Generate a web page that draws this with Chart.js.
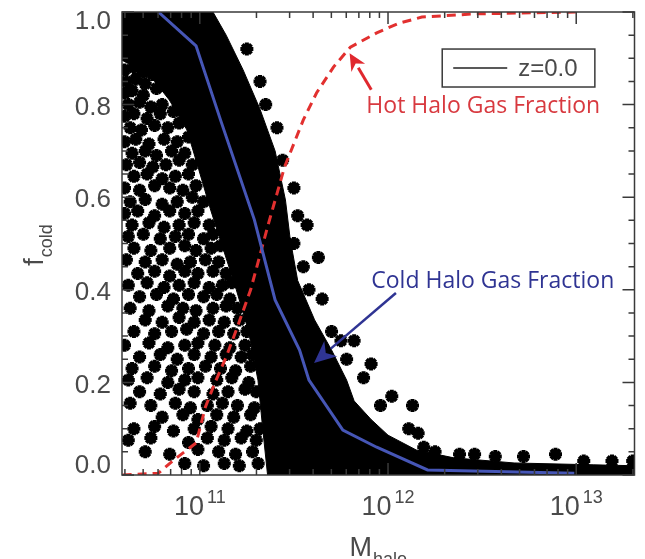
<!DOCTYPE html>
<html>
<head>
<meta charset="utf-8">
<script src="https://cdn.jsdelivr.net/npm/chart.js@4.4.1/dist/chart.umd.min.js"></script>
<style>
  html, body { margin: 0; padding: 0; background: #fff; }
  #wrap { width: 645px; height: 559px; }
</style>
</head>
<body>
<div id="wrap"><canvas id="chart" width="645" height="559"></canvas></div>
<script>
// axis limits (halo mass, log axis) and tick lists
const X_MIN = 3.86e10;
const X_MAX = 2.04e13;
const yMajorTicks = [0, 0.2, 0.4, 0.6, 0.8, 1.0];
const yTickLabels = ['0.0', '0.2', '0.4', '0.6', '0.8', '1.0'];
const yMinorTicks = [0.05, 0.1, 0.15, 0.25, 0.3, 0.35, 0.45, 0.5, 0.55, 0.65, 0.7, 0.75, 0.85, 0.9, 0.95];
const xMajorTicks = [1e11, 1e12, 1e13];
const xTickExponents = ['11', '12', '13'];
const xMinorDecades = [1e10, 1e11, 1e12, 1e13];
const xMinorSteps = [2, 3, 4, 5, 6, 7, 8, 9];

// cold halo gas fraction (binned median, blue), log10 mass
const coldLogM = [10.78, 10.98, 11.11, 11.29, 11.40, 11.53, 11.58, 11.76, 11.94, 12.21, 12.99];
const coldFrac = [1.0, 0.927, 0.767, 0.551, 0.378, 0.270, 0.205, 0.097, 0.060, 0.011, 0.004];

// hot halo gas fraction (red dashed)
const hotLogM = [10.59, 10.78, 10.86, 10.98, 11.03, 11.08, 11.14, 11.20, 11.27, 11.36, 11.45, 11.55, 11.62, 11.71, 11.80, 11.94, 12.06, 12.18, 12.46, 13.0];
const hotFrac = [0, 0.004, 0.032, 0.069, 0.147, 0.199, 0.255, 0.320, 0.400, 0.536, 0.665, 0.767, 0.825, 0.881, 0.924, 0.955, 0.976, 0.989, 0.996, 1.0];

// outline of the saturated part of the halo cloud [log10 M, f]
const cloudCore = [
  [10.586, 1.0], [11.07, 1.0], [11.14, 0.95], [11.23, 0.875], [11.32, 0.79], [11.40, 0.70],
  [11.455, 0.594], [11.48, 0.51], [11.52, 0.42], [11.61, 0.335], [11.70, 0.27], [11.78, 0.205],
  [11.82, 0.16], [11.91, 0.12], [12.0, 0.086], [12.15, 0.054], [12.35, 0.037], [12.67, 0.026],
  [13.09, 0.022], [13.31, 0.02], [13.31, 0], [11.36, 0], [11.335, 0.097], [11.309, 0.205],
  [11.257, 0.313], [11.194, 0.40], [11.126, 0.486], [11.058, 0.572], [10.995, 0.659],
  [10.932, 0.745], [10.838, 0.81], [10.733, 0.864], [10.586, 0.896]
];

// individual halos outside the saturated core [log10 M, f]
const cloudHalos = [
  [10.60, 0.875], [10.65, 0.88], [10.70, 0.87], [10.75, 0.865],
  [10.61, 0.85], [10.66, 0.855], [10.71, 0.845],
  [10.60, 0.825], [10.64, 0.83], [10.70, 0.82], [10.77, 0.835],
  [10.62, 0.80], [10.68, 0.805], [10.74, 0.795], [10.80, 0.80],
  [10.60, 0.775], [10.65, 0.78], [10.72, 0.77], [10.79, 0.78], [10.86, 0.785],
  [10.63, 0.75], [10.69, 0.745], [10.76, 0.755], [10.83, 0.75], [10.89, 0.76],
  [10.60, 0.72], [10.66, 0.725], [10.73, 0.715], [10.81, 0.725], [10.88, 0.72], [10.94, 0.73],
  [10.64, 0.695], [10.71, 0.70], [10.77, 0.69], [10.85, 0.70], [10.92, 0.695],
  [10.61, 0.67], [10.68, 0.675], [10.75, 0.665], [10.82, 0.67], [10.89, 0.68], [10.96, 0.67],
  [10.65, 0.645], [10.72, 0.65], [10.80, 0.64], [10.87, 0.645], [10.94, 0.65],
  [10.60, 0.62], [10.68, 0.615], [10.76, 0.625], [10.84, 0.62], [10.91, 0.615], [10.98, 0.625],
  [10.63, 0.59], [10.71, 0.595], [10.80, 0.585], [10.88, 0.59], [10.96, 0.60], [11.02, 0.59],
  [10.60, 0.565], [10.67, 0.57], [10.76, 0.56], [10.84, 0.57], [10.92, 0.565], [10.99, 0.57],
  [10.64, 0.54], [10.73, 0.545], [10.81, 0.535], [10.89, 0.54], [10.97, 0.545], [11.05, 0.54],
  [10.62, 0.515], [10.70, 0.52], [10.79, 0.51], [10.87, 0.515], [10.94, 0.52], [11.02, 0.51], [11.07, 0.52],
  [10.65, 0.49], [10.74, 0.485], [10.84, 0.49], [10.92, 0.495], [10.98, 0.485], [11.06, 0.49], [11.11, 0.495],
  [10.61, 0.465], [10.71, 0.46], [10.80, 0.465], [10.88, 0.455], [10.95, 0.46], [11.03, 0.465], [11.10, 0.46],
  [10.67, 0.435], [10.76, 0.44], [10.84, 0.43], [10.92, 0.44], [10.99, 0.435], [11.07, 0.44], [11.14, 0.435],
  [10.62, 0.41], [10.72, 0.415], [10.81, 0.405], [10.89, 0.41], [10.97, 0.415], [11.05, 0.405], [11.12, 0.41], [11.17, 0.415],
  [10.68, 0.385], [10.77, 0.39], [10.86, 0.38], [10.94, 0.39], [11.02, 0.385], [11.09, 0.39], [11.16, 0.38],
  [10.63, 0.36], [10.73, 0.355], [10.83, 0.365], [10.91, 0.36], [10.98, 0.355], [11.07, 0.36], [11.14, 0.365], [11.20, 0.36],
  [10.71, 0.335], [10.80, 0.33], [10.89, 0.34], [10.97, 0.33], [11.05, 0.335], [11.13, 0.33], [11.21, 0.335],
  [10.65, 0.31], [10.76, 0.305], [10.85, 0.31], [10.93, 0.315], [11.02, 0.305], [11.10, 0.31], [11.18, 0.305], [11.25, 0.31],
  [10.60, 0.28], [10.73, 0.285], [10.83, 0.275], [10.92, 0.28], [10.99, 0.285], [11.08, 0.28], [11.16, 0.275], [11.24, 0.28],
  [10.68, 0.255], [10.79, 0.26], [10.88, 0.25], [10.97, 0.26], [11.06, 0.255], [11.14, 0.26], [11.22, 0.255], [11.28, 0.26],
  [10.64, 0.23], [10.76, 0.235], [10.85, 0.225], [10.94, 0.23], [11.03, 0.235], [11.11, 0.23], [11.19, 0.225], [11.27, 0.235],
  [10.62, 0.205], [10.72, 0.21], [10.83, 0.20], [10.92, 0.205], [10.99, 0.21], [11.09, 0.205], [11.17, 0.21], [11.26, 0.20],
  [10.68, 0.18], [10.79, 0.175], [10.89, 0.185], [10.97, 0.18], [11.07, 0.175], [11.15, 0.18], [11.24, 0.185], [11.30, 0.18],
  [10.63, 0.155], [10.74, 0.15], [10.87, 0.155], [10.95, 0.145], [11.04, 0.15], [11.12, 0.155], [11.20, 0.15], [11.29, 0.145],
  [10.80, 0.125], [10.91, 0.13], [10.99, 0.12], [11.09, 0.13], [11.18, 0.125], [11.27, 0.13],
  [10.65, 0.10], [10.76, 0.105], [10.86, 0.095], [10.97, 0.10], [11.06, 0.105], [11.15, 0.10], [11.25, 0.095], [11.32, 0.10],
  [10.62, 0.075], [10.74, 0.08], [10.94, 0.07], [11.04, 0.08], [11.13, 0.075], [11.22, 0.08], [11.30, 0.075],
  [10.71, 0.05], [10.84, 0.045], [10.99, 0.055], [11.10, 0.05], [11.19, 0.045], [11.28, 0.05],
  [10.92, 0.025], [11.02, 0.02], [11.13, 0.025], [11.21, 0.02], [11.31, 0.025],
  // right-hand stragglers
  [11.25, 0.92], [11.32, 0.85], [11.35, 0.80], [11.41, 0.75], [11.44, 0.68], [11.50, 0.62],
  [11.52, 0.56], [11.57, 0.54], [11.63, 0.47], [11.50, 0.50], [11.55, 0.45], [11.58, 0.40],
  [11.65, 0.38], [11.70, 0.31], [11.75, 0.29], [11.82, 0.29], [11.78, 0.25], [11.87, 0.21],
  [11.91, 0.24], [11.96, 0.15], [12.02, 0.17], [12.13, 0.15], [12.11, 0.10], [12.16, 0.09],
  [12.19, 0.06], [12.25, 0.05], [12.38, 0.045], [12.46, 0.045], [12.57, 0.04], [12.72, 0.04],
  [12.89, 0.045], [13.04, 0.03], [13.19, 0.03], [13.30, 0.03]
];

// annotation anchors in data space [log10 M, f]
const hotNote = { text: 'Hot Halo Gas Fraction', at: [11.885, 0.795], color: '#d8393f' };
const coldNote = { text: 'Cold Halo Gas Fraction', at: [11.911, 0.417], color: '#2f3493' };
const hotArrow = { from: [11.911, 0.832], to: [11.796, 0.911], color: '#e0282e' };
const coldArrow = { from: [12.042, 0.393], to: [11.607, 0.242], color: '#2f3493' };
const legendCorners = { a: [12.288, 0.920], b: [13.099, 0.838] };
const legendLabel = 'z=0.0';

const toPoints = (logM, frac) => logM.map((m, i) => ({ x: Math.pow(10, m), y: frac[i] }));
const pairsToPoints = (pairs) => pairs.map(([m, f]) => ({ x: Math.pow(10, m), y: f }));

const AXIS_COLOR = '#3a3a3a';
const LABEL_COLOR = '#4a4a4a';
const AXIS_FONT = '"Liberation Sans", Arial, sans-serif';

function px(chart, pair) {
  const { x, y } = chart.scales;
  return [x.getPixelForValue(Math.pow(10, pair[0])), y.getPixelForValue(pair[1])];
}

function drawArrow(ctx, from, to, color, width, headLen, headHalf) {
  const ang = Math.atan2(to[1] - from[1], to[0] - from[0]);
  const bx = to[0] - Math.cos(ang) * headLen;
  const by = to[1] - Math.sin(ang) * headLen;
  ctx.strokeStyle = color;
  ctx.fillStyle = color;
  ctx.lineWidth = width;
  ctx.beginPath();
  ctx.moveTo(from[0], from[1]);
  ctx.lineTo(bx, by);
  ctx.stroke();
  ctx.beginPath();
  ctx.moveTo(to[0], to[1]);
  ctx.lineTo(bx + Math.sin(ang) * headHalf, by - Math.cos(ang) * headHalf);
  ctx.lineTo(to[0] - Math.cos(ang) * headLen * 0.7, to[1] - Math.sin(ang) * headLen * 0.7);
  ctx.lineTo(bx - Math.sin(ang) * headHalf, by + Math.cos(ang) * headHalf);
  ctx.closePath();
  ctx.fill();
}

// IDL style frame: box, inward ticks on all sides, custom labels
const idlFrame = {
  id: 'idlFrame',
  afterDraw(chart) {
    const { ctx, chartArea: a, scales: { x, y } } = chart;
    ctx.save();
    ctx.strokeStyle = AXIS_COLOR;
    ctx.lineWidth = 1.5;
    ctx.beginPath();
    const yTick = (v, len) => {
      const py = y.getPixelForValue(v);
      ctx.moveTo(a.left, py); ctx.lineTo(a.left + len, py);
      ctx.moveTo(a.right, py); ctx.lineTo(a.right - len, py);
    };
    const xTick = (v, len) => {
      if (v < X_MIN || v > X_MAX) return;
      const pxv = x.getPixelForValue(v);
      ctx.moveTo(pxv, a.bottom); ctx.lineTo(pxv, a.bottom - len);
      ctx.moveTo(pxv, a.top); ctx.lineTo(pxv, a.top + len);
    };
    yMajorTicks.forEach((v) => yTick(v, 12));
    yMinorTicks.forEach((v) => yTick(v, 6));
    xMajorTicks.forEach((v) => xTick(v, 12));
    xMinorDecades.forEach((d) => xMinorSteps.forEach((s) => xTick(d * s, 6)));
    ctx.stroke();
    ctx.strokeRect(a.left, a.top, a.right - a.left, a.bottom - a.top);

    // y tick labels
    ctx.fillStyle = LABEL_COLOR;
    ctx.font = '26px ' + AXIS_FONT;
    ctx.textAlign = 'right';
    ctx.textBaseline = 'middle';
    yMajorTicks.forEach((v, i) => {
      const py = Math.min(Math.max(y.getPixelForValue(v) + 3, a.top + 10), a.bottom - 9);
      ctx.fillText(yTickLabels[i], 111, py);
    });

    // x tick labels: 10 with superscript exponent
    ctx.textAlign = 'left';
    ctx.textBaseline = 'alphabetic';
    xMajorTicks.forEach((v, i) => {
      ctx.font = '27px ' + AXIS_FONT;
      const wBase = ctx.measureText('10').width;
      ctx.font = '18px ' + AXIS_FONT;
      const wExp = ctx.measureText(xTickExponents[i]).width;
      const left = x.getPixelForValue(v) - (wBase + 3 + wExp) / 2;
      ctx.font = '27px ' + AXIS_FONT;
      ctx.fillText('10', left, 515);
      ctx.font = '18px ' + AXIS_FONT;
      ctx.fillText(xTickExponents[i], left + wBase + 3, 503);
    });

    // x title M_halo
    ctx.font = '27px ' + AXIS_FONT;
    const wM = ctx.measureText('M').width;
    ctx.font = '18px ' + AXIS_FONT;
    const wSub = ctx.measureText('halo').width;
    const tx = (a.left + a.right) / 2 - (wM + 1 + wSub) / 2;
    ctx.font = '27px ' + AXIS_FONT;
    ctx.fillText('M', tx, 556);
    ctx.font = '18px ' + AXIS_FONT;
    ctx.fillText('halo', tx + wM + 1, 565);

    // y title f_cold (rotated)
    ctx.save();
    ctx.translate(43, 245);
    ctx.rotate(-Math.PI / 2);
    ctx.font = '27px ' + AXIS_FONT;
    const wF = ctx.measureText('f').width;
    ctx.font = '18px ' + AXIS_FONT;
    const wCold = ctx.measureText('cold').width;
    const ty = -(wF + 1 + wCold) / 2;
    ctx.font = '27px ' + AXIS_FONT;
    ctx.fillText('f', ty, 0);
    ctx.font = '18px ' + AXIS_FONT;
    ctx.fillText('cold', ty + wF + 1, 9);
    ctx.restore();
    ctx.restore();
  }
};

// legend box, labels and arrows
const notes = {
  id: 'notes',
  afterDraw(chart) {
    const { ctx } = chart;
    ctx.save();
    const [lx0, ly0] = px(chart, legendCorners.a);
    const [lx1, ly1] = px(chart, legendCorners.b);
    ctx.fillStyle = '#fff';
    ctx.fillRect(lx0, ly0, lx1 - lx0, ly1 - ly0);
    ctx.strokeStyle = AXIS_COLOR;
    ctx.lineWidth = 1.5;
    ctx.strokeRect(lx0, ly0, lx1 - lx0, ly1 - ly0);
    const midY = (ly0 + ly1) / 2;
    ctx.strokeStyle = '#222';
    ctx.lineWidth = 1.5;
    ctx.beginPath();
    ctx.moveTo(lx0 + 11, midY);
    ctx.lineTo(lx0 + 65, midY);
    ctx.stroke();
    ctx.fillStyle = LABEL_COLOR;
    ctx.font = '24px ' + AXIS_FONT;
    ctx.textAlign = 'left';
    ctx.textBaseline = 'middle';
    ctx.fillText(legendLabel, lx0 + 76, midY + 1);

    ctx.font = '23px "Open Sans", "Noto Sans", sans-serif';
    [hotNote, coldNote].forEach((n) => {
      const [nx, ny] = px(chart, n.at);
      ctx.fillStyle = n.color;
      ctx.fillText(n.text, nx, ny);
    });

    drawArrow(ctx, px(chart, hotArrow.from), px(chart, hotArrow.to), hotArrow.color, 3, 17, 8);
    drawArrow(ctx, px(chart, coldArrow.from), px(chart, coldArrow.to), coldArrow.color, 2.5, 22, 10);
    ctx.restore();
  }
};

new Chart(document.getElementById('chart'), {
  type: 'scatter',
  data: {
    datasets: [
      {
        label: 'cloud core',
        type: 'line',
        data: pairsToPoints(cloudCore),
        fill: 'shape',
        backgroundColor: '#000',
        borderColor: '#000',
        borderWidth: 1,
        pointRadius: 0,
        order: 5
      },
      {
        label: 'halos',
        data: pairsToPoints(cloudHalos),
        pointStyle: 'star',
        pointRadius: 6.5,
        borderWidth: 4,
        borderColor: '#000',
        backgroundColor: '#000',
        order: 4
      },
      {
        label: 'hot',
        type: 'line',
        data: toPoints(hotLogM, hotFrac),
        borderColor: '#e2302f',
        borderWidth: 3,
        borderDash: [9, 6],
        pointRadius: 0,
        fill: false,
        order: 2
      },
      {
        label: 'cold',
        type: 'line',
        data: toPoints(coldLogM, coldFrac),
        borderColor: '#4656b6',
        borderWidth: 3,
        pointRadius: 0,
        fill: false,
        order: 1
      }
    ]
  },
  options: {
    responsive: false,
    animation: false,
    layout: { padding: { top: 12, right: 3, left: 0, bottom: 0 } },
    scales: {
      x: {
        type: 'logarithmic',
        min: X_MIN,
        max: X_MAX,
        grid: { display: false },
        border: { display: false },
        ticks: { display: false },
        afterFit: (s) => { s.height = 84; }
      },
      y: {
        min: 0,
        max: 1,
        grid: { display: false },
        border: { display: false },
        ticks: { display: false },
        afterFit: (s) => { s.width = 122; }
      }
    },
    plugins: {
      legend: { display: false },
      tooltip: { enabled: false }
    }
  },
  plugins: [idlFrame, notes]
});
</script>
</body>
</html>
